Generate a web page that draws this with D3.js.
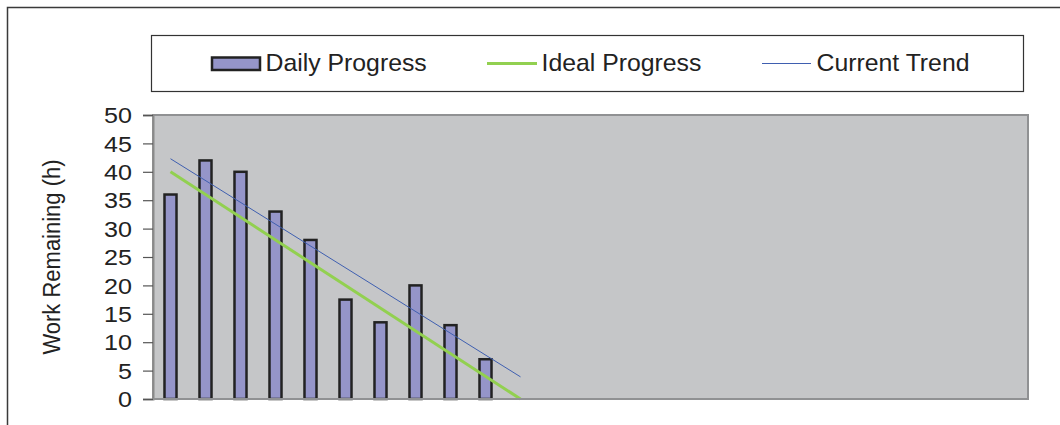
<!DOCTYPE html>
<html>
<head>
<meta charset="utf-8">
<script src="https://cdn.jsdelivr.net/npm/d3@7/dist/d3.min.js"></script>
<style>
  html, body { margin: 0; padding: 0; background: #ffffff; }
  svg { display: block; font-family: "Liberation Sans", Arial, sans-serif; }
</style>
</head>
<body>
<svg id="chart" width="1060" height="425"></svg>
<script>
// Sprint days shown on the horizontal axis (no labels drawn)
const days = [1, 2, 3, 4, 5, 6, 7, 8, 9, 10, 11, 12, 13, 14, 15, 16, 17, 18, 19, 20, 21, 22, 23, 24, 25];
// Hours of work remaining, recorded per day
const dailyProgress = [36, 42, 40, 33, 28, 17.5, 13.5, 20, 13, 7];
// Ideal burn-down: start and finish points
const idealDays = [1, 11];
const idealHours = [40, 0];
// Current trend line through the recorded days
const trendDays = [1, 11];
const trendHours = [42.3, 3.9];
// Vertical axis ticks
const yTicks = [0, 5, 10, 15, 20, 25, 30, 35, 40, 45, 50];

const seriesNames = ["Daily Progress", "Ideal Progress", "Current Trend"];

const svg = d3.select("#chart");
const plot = { left: 153, right: 1028, top: 115, bottom: 399 };

// Outer chart frame
svg.append("path")
  .attr("d", "M7.5,430 L7.5,7.5 L1070,7.5")
  .attr("fill", "none")
  .attr("stroke", "#3a3a3a")
  .attr("stroke-width", 1.5);

const x = d3.scaleBand()
  .domain(days)
  .range([plot.left, plot.right])
  .paddingInner(0.657)
  .paddingOuter(0.3285);

const y = d3.scaleLinear()
  .domain([0, 50])
  .range([plot.bottom, plot.top]);

const cx = d => x(d) + x.bandwidth() / 2;

// Plot area background
svg.append("rect")
  .attr("x", plot.left)
  .attr("y", plot.top)
  .attr("width", plot.right - plot.left)
  .attr("height", plot.bottom - plot.top)
  .attr("fill", "#c5c6c8")
  .attr("stroke", "#909193")
  .attr("stroke-width", 2);

// Y axis
const yAxis = svg.append("g")
  .attr("transform", `translate(${plot.left},0)`)
  .call(d3.axisLeft(y).tickValues(yTicks).tickSize(10).tickPadding(0));
yAxis.select(".domain").attr("stroke", "#8a8a8a").attr("stroke-width", 2);
yAxis.selectAll(".tick line").attr("stroke", "#555").attr("stroke-width", 1.2);
yAxis.selectAll(".tick text")
  .attr("x", 0)
  .attr("dy", "0.36em")
  .attr("transform", "translate(-21,0) scale(1.17,1)")
  .attr("font-size", 21.5)
  .attr("font-family", "'Liberation Sans', Arial, sans-serif")
  .attr("fill", "#222");

// Y axis title
svg.append("text")
  .attr("transform", `translate(60,${(plot.top + plot.bottom) / 2}) rotate(-90) scale(1,1.12)`)
  .attr("text-anchor", "middle")
  .attr("font-size", 22)
  .attr("fill", "#222")
  .text("Work Remaining (h)");

// Daily progress bars
svg.append("g").selectAll("rect")
  .data(dailyProgress)
  .join("rect")
  .attr("x", (d, i) => x(days[i]))
  .attr("y", d => y(d))
  .attr("width", x.bandwidth())
  .attr("height", d => y(0) - y(d))
  .attr("fill", "#9595c9")
  .attr("stroke", "#222")
  .attr("stroke-width", 2.5);

// Ideal progress line
const line = d3.line().x(d => cx(d[0])).y(d => y(d[1]));
svg.append("path")
  .datum(idealDays.map((d, i) => [d, idealHours[i]]))
  .attr("d", line)
  .attr("fill", "none")
  .attr("stroke", "#92d050")
  .attr("stroke-width", 3);

// Current trend line
svg.append("path")
  .datum(trendDays.map((d, i) => [d, trendHours[i]]))
  .attr("d", line)
  .attr("fill", "none")
  .attr("stroke", "#3f5fb0")
  .attr("stroke-width", 1);

// Redraw bottom edge over bars
svg.append("line")
  .attr("x1", plot.left).attr("x2", plot.right)
  .attr("y1", plot.bottom).attr("y2", plot.bottom)
  .attr("stroke", "#909193").attr("stroke-width", 2);

// Legend
const legend = svg.append("g");
legend.append("rect")
  .attr("x", 151.5).attr("y", 35.5)
  .attr("width", 872).attr("height", 56)
  .attr("fill", "#fff")
  .attr("stroke", "#333")
  .attr("stroke-width", 1.2);

legend.append("rect")
  .attr("x", 212).attr("y", 57.5)
  .attr("width", 48).attr("height", 12.5)
  .attr("fill", "#9595c9")
  .attr("stroke", "#222")
  .attr("stroke-width", 2.5);
legend.append("line")
  .attr("x1", 487).attr("x2", 537).attr("y1", 63.5).attr("y2", 63.5)
  .attr("stroke", "#92d050").attr("stroke-width", 3);
legend.append("line")
  .attr("x1", 762).attr("x2", 811).attr("y1", 63.5).attr("y2", 63.5)
  .attr("stroke", "#3f5fb0").attr("stroke-width", 1);

const legendX = [265.5, 541.5, 816.5];
legend.selectAll("text.lbl")
  .data(seriesNames)
  .join("text")
  .attr("class", "lbl")
  .attr("x", (d, i) => legendX[i])
  .attr("y", 71)
  .attr("font-size", 24.8)
  .attr("fill", "#222")
  .text(d => d);
</script>
</body>
</html>
